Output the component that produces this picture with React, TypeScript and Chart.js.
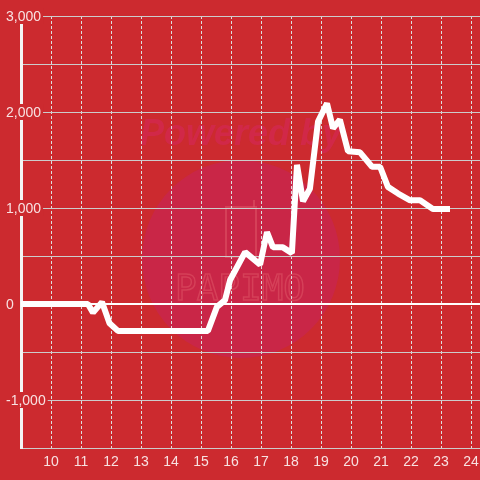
import React, { useEffect, useRef } from "react";
import { Chart, registerables } from "chart.js";

Chart.register(...registerables);

const hours = [9, 11.23, 11.4, 11.7, 11.95, 12.23, 15.23, 15.53, 15.8, 15.97, 16.47, 16.97, 17.2, 17.4, 17.73, 18.03, 18.2, 18.4, 18.63, 18.9, 19.2, 19.4, 19.63, 19.9, 20.3, 20.7, 20.97, 21.23, 21.57, 21.97, 22.3, 22.73, 23.3];
const values = [0, 0, -90, 20, -200, -280, -280, -30, 40, 250, 540, 410, 750, 590, 590, 530, 1450, 1070, 1200, 1900, 2090, 1830, 1920, 1590, 1580, 1430, 1430, 1220, 1150, 1080, 1080, 990, 990];

const xMin = 9;
const xMax = 24.3;
const xTickValues = [10, 11, 12, 13, 14, 15, 16, 17, 18, 19, 20, 21, 22, 23, 24];
const yMin = -1500;
const yMax = 3000;
const yStep = 500;
const yLabelStep = 1000;

const BG = "#cc2a2f";
const FONT = "'Liberation Sans', Arial, sans-serif";
const LABEL = "rgba(255,255,255,0.86)";

const watermark = {
  id: "bgWatermark",
  beforeDraw(chart: any) {
    const ctx = chart.ctx;
    ctx.save();
    ctx.fillStyle = BG;
    ctx.fillRect(0, 0, chart.width, chart.height);
    ctx.beginPath();
    ctx.arc(241, 259, 99, 0, Math.PI * 2);
    ctx.fillStyle = "rgba(200,38,78,0.8)";
    ctx.fill();
    ctx.font = `italic bold 36px ${FONT}`;
    ctx.textAlign = "center";
    ctx.textBaseline = "middle";
    ctx.fillStyle = "rgba(212,40,90,0.6)";
    ctx.fillText("Powered by", 241, 135);
    ctx.strokeStyle = "rgba(225,90,105,0.5)";
    ctx.lineWidth = 2;
    ctx.beginPath();
    ctx.rect(226, 207, 30, 50);
    ctx.stroke();
    ctx.beginPath();
    ctx.moveTo(254, 200);
    ctx.lineTo(254, 207);
    ctx.stroke();
    ctx.font = `36px 'DejaVu Sans Mono', monospace`;
    ctx.lineWidth = 1.5;
    ctx.strokeText("PAPIMO", 240, 291);
    ctx.restore();
  },
};

const yLabels = {
  id: "yLabels",
  beforeDatasetsDraw(chart: any) {
    const ctx = chart.ctx;
    const y = chart.scales.y;
    ctx.save();
    ctx.font = `14px ${FONT}`;
    ctx.textAlign = "left";
    ctx.textBaseline = "middle";
    y.ticks.forEach((t: any) => {
      if (t.value % yLabelStep !== 0) return;
      const text = Number(t.value).toLocaleString("en-US");
      const py = y.getPixelForValue(t.value);
      const w = ctx.measureText(text).width;
      const lx = 6;
      ctx.fillStyle = BG;
      ctx.fillRect(lx - 2, py - 8, w + 4, 16);
      ctx.fillStyle = LABEL;
      ctx.fillText(text, lx, py + 1);
    });
    ctx.restore();
  },
};

export default function App() {
  const ref = useRef<HTMLCanvasElement>(null);
  useEffect(() => {
    if (!ref.current) return;
    const chart = new Chart(ref.current, {
      type: "line",
      data: {
        datasets: [
          {
            data: hours.map((h, i) => ({ x: h, y: values[i] })),
            borderColor: "#ffffff",
            borderWidth: 6,
            borderJoinStyle: "bevel",
            pointRadius: 0,
            tension: 0,
            fill: false,
          },
        ],
      },
      options: {
        animation: false,
        responsive: false,
        maintainAspectRatio: false,
        layout: { padding: { left: 0, top: 16, right: 0, bottom: 0 } },
        plugins: { legend: { display: false }, tooltip: { enabled: false } },
        scales: {
          x: {
            type: "linear",
            min: xMin,
            max: xMax,
            afterBuildTicks: (s: any) => {
              s.ticks = xTickValues.map((v) => ({ value: v }));
            },
            afterFit: (s: any) => {
              s.height = 32;
              s.paddingLeft = 0;
              s.paddingRight = 0;
            },
            ticks: {
              stepSize: 1,
              color: LABEL,
              font: { family: FONT, size: 14 },
              padding: 6,
              maxRotation: 0,
              autoSkip: false,
            },
            grid: { color: "#dddddd", lineWidth: 1, drawTicks: false },
            border: { display: true, color: "#cccccc", width: 1, dash: [3, 2] },
          },
          y: {
            type: "linear",
            min: yMin,
            max: yMax,
            afterFit: (s: any) => {
              s.width = 21;
              s.paddingTop = 0;
              s.paddingBottom = 0;
            },
            ticks: {
              stepSize: yStep,
              display: false,
            },
            grid: {
              color: (c: any) => (c.tick && c.tick.value === 0 ? "#ffffff" : "#cccccc"),
              lineWidth: (c: any) => (c.tick && c.tick.value === 0 ? 2 : 1),
              drawTicks: false,
            },
            border: { display: true, color: "#f4f4f4", width: 3 },
          },
        },
      },
      plugins: [watermark, yLabels],
    });
    return () => chart.destroy();
  }, []);
  return (
    <div style={{ position: "absolute", left: 0, top: 0, width: 480, height: 480, background: BG }}>
      <canvas ref={ref} width={480} height={480} style={{ display: "block", width: 480, height: 480 }} />
    </div>
  );
}
